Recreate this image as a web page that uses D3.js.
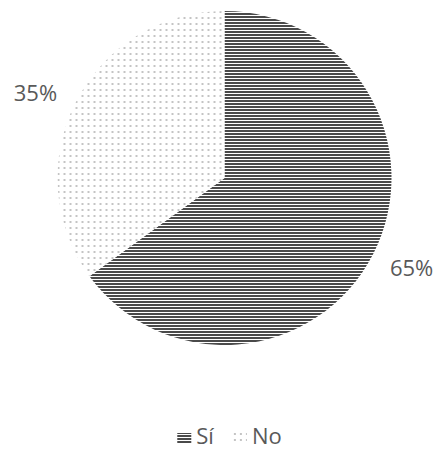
<!DOCTYPE html>
<html>
<head>
<meta charset="utf-8">
<script src="https://cdn.jsdelivr.net/npm/d3@7"></script>
<style>
  body { margin: 0; background: #fff; }
  text { font-family: "Open Sans", sans-serif; fill: #595959; }
</style>
</head>
<body>
<div id="chart"></div>
<script>
// Data
const categories = ['Sí', 'No']
const values = [65, 35]
const labels = ['65%', '35%']
const patternIds = ['stripes', 'dots']

function draw() {
  const dataset = categories.map((c, i) => ({ cat: c, value: values[i], label: labels[i], pat: patternIds[i] }))

  // Dimensions
  const dimensions = {
    width: 437,
    height: 450,
    cx: 224.5,
    cy: 178,
    radius: 167,
  }

  const svg = d3.select('#chart')
    .append('svg')
    .attr('width', dimensions.width)
    .attr('height', dimensions.height)

  // Patterns
  const defs = svg.append('defs')
  const stripes = defs.append('pattern')
    .attr('id', 'stripes')
    .attr('patternUnits', 'userSpaceOnUse')
    .attr('width', 6)
    .attr('height', 3)
  stripes.append('rect')
    .attr('width', 6).attr('height', 3).attr('fill', '#ffffff')
  stripes.append('rect')
    .attr('width', 6).attr('height', 2).attr('fill', '#4a4a4a')

  const dots = defs.append('pattern')
    .attr('id', 'dots')
    .attr('patternUnits', 'userSpaceOnUse')
    .attr('width', 6)
    .attr('height', 6)
  dots.append('rect')
    .attr('width', 6).attr('height', 6).attr('fill', '#ffffff')
  dots.append('rect')
    .attr('x', 1).attr('y', 1)
    .attr('width', 2).attr('height', 2).attr('fill', '#c4c4c4')

  // Pie
  const pie = d3.pie()
    .sort(null)
    .value(d => d.value)

  const arc = d3.arc()
    .innerRadius(0)
    .outerRadius(dimensions.radius)

  const labelArc = d3.arc()
    .innerRadius(dimensions.radius + 13)
    .outerRadius(dimensions.radius + 13)

  const ctr = svg.append('g')
    .attr('transform', `translate(${dimensions.cx}, ${dimensions.cy})`)

  const arcs = pie(dataset)

  ctr.selectAll('path')
    .data(arcs)
    .join('path')
    .attr('d', arc)
    .attr('fill', d => `url(#${d.data.pat})`)

  // Labels
  ctr.selectAll('text.label')
    .data(arcs)
    .join('text')
    .classed('label', true)
    .attr('x', d => {
      const [x] = labelArc.centroid(d)
      return x < 0 ? x - 7 : x + 5
    })
    .attr('y', d => {
      const [, y] = labelArc.centroid(d)
      return y < 0 ? y - 4 : y + 7
    })
    .attr('text-anchor', d => labelArc.centroid(d)[0] < 0 ? 'end' : 'start')
    .attr('dominant-baseline', 'central')
    .style('font-size', '22px')
    .text(d => d.data.label)

  // Legend
  const legend = svg.append('g')
  const items = legend.selectAll('g')
    .data(dataset)
    .join('g')

  items.append('rect')
    .attr('x', 0)
    .attr('y', -11)
    .attr('width', 14)
    .attr('height', 11)
    .attr('fill', d => `url(#${d.pat})`)

  items.append('text')
    .attr('x', 19)
    .attr('y', 0)
    .style('font-size', '22px')
    .text(d => d.cat)

  let offset = 0
  items.each(function () {
    const g = d3.select(this)
    const w = 19 + g.select('text').node().getComputedTextLength()
    g.attr('transform', `translate(${offset}, 0)`)
    offset += w + 19
  })
  const legendWidth = offset - 19
  legend.attr('transform', `translate(${dimensions.cx + 5 - legendWidth / 2}, 444)`)
}
draw()
</script>
</body>
</html>
